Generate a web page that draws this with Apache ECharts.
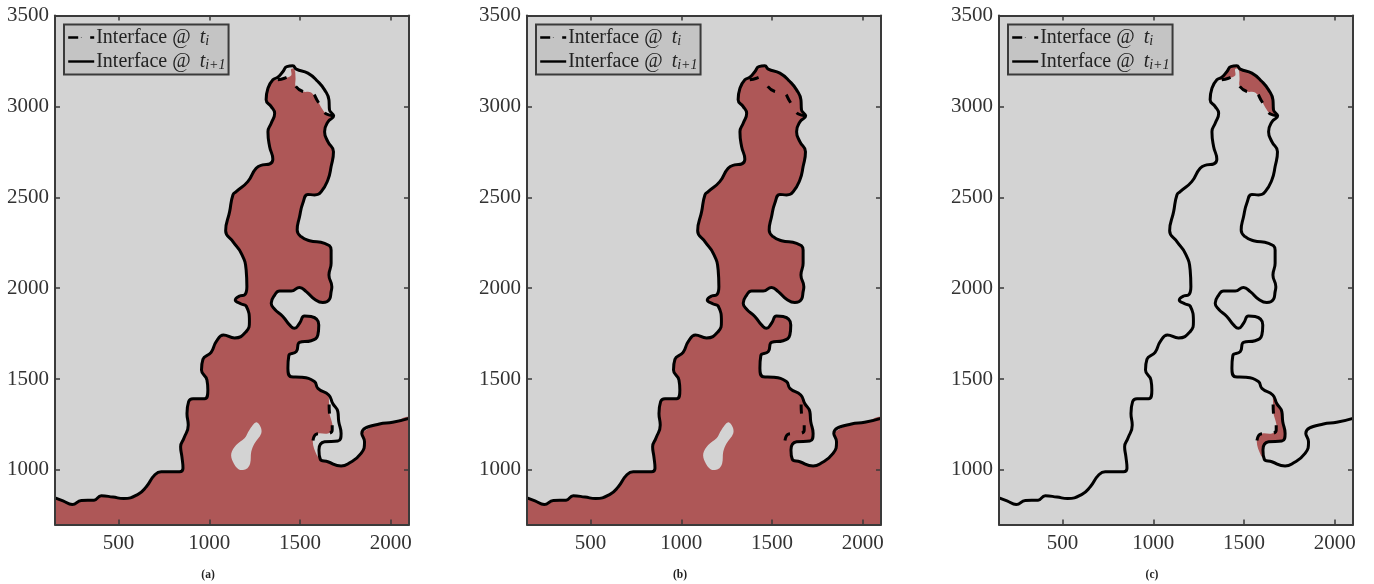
<!DOCTYPE html>
<html><head><meta charset="utf-8">
<style>html,body{margin:0;padding:0;background:#fff}#c{width:1374px;height:584px}</style>
<script src="https://cdn.jsdelivr.net/npm/echarts@6/dist/echarts.min.js"></script>
</head><body><div id="c"></div>
<script>
const xTicks=[500,1000,1500,2000];
const yTicks=[1000,1500,2000,2500,3000,3500];
const captions=['(a)','(b)','(c)'];
const nameOld='Interface @ t_i', nameNew='Interface @ t_i+1';
const commonA=[[150,847],[194,830],[245,810],[295,832],[365,834],[405,858],[469,851],[528,843],[607,866],[653,908],[699,972],[735,990],[836,990],[855,1009],[849,1073],[842,1128],[860,1174],[884,1247],[877,1311],[886,1376],[910,1392],[974,1392],[992,1440],[987,1495],[957,1550],[965,1609],[1010,1647],[1038,1706],[1078,1743],[1139,1726],[1203,1761],[1221,1816],[1203,1902],[1176,1913],[1143,1935],[1167,1957],[1194,1963],[1207,2008],[1203,2100],[1176,2192],[1130,2256],[1090,2316],[1112,2421],[1130,2513],[1148,2531],[1212,2586],[1258,2660],[1294,2678],[1332,2683],[1350,2709],[1332,2779],[1323,2861],[1341,2907],[1360,2962],[1341,2999],[1313,3036],[1323,3100],[1350,3146]];
const solidTop=[[1350,3146],[1378,3161],[1406,3192],[1427,3219],[1460,3223],[1479,3205],[1543,3183],[1598,3137],[1635,3091],[1659,3036],[1662,2981],[1685,2948]];
const dashedTop=[[1350,3146],[1377,3146],[1414,3155],[1451,3170],[1451,3206],[1469,3205],[1475,3155],[1476,3110],[1515,3082],[1561,3076],[1598,3027],[1625,2981],[1645,2958],[1685,2948]];
const commonB=[[1685,2948],[1654,2916],[1635,2861],[1653,2806],[1684,2751],[1671,2669],[1653,2595],[1616,2531],[1580,2513],[1543,2516],[1515,2467],[1497,2393],[1484,2320],[1506,2283],[1552,2261],[1635,2247],[1671,2210],[1671,2137],[1659,2072],[1675,2008],[1671,1981],[1662,1939],[1625,1921],[1580,1939],[1534,1981],[1497,2004],[1451,1984],[1387,1984],[1360,1962],[1341,1917],[1360,1884],[1405,1844],[1442,1798],[1469,1779],[1497,1807],[1524,1847],[1561,1844],[1603,1798],[1598,1743],[1561,1711],[1497,1702],[1479,1651],[1438,1629],[1433,1559],[1451,1513],[1506,1510],[1579,1486],[1598,1449],[1658,1412]];
const solidBottom=[[1658,1412],[1680,1366],[1708,1321],[1713,1266],[1726,1201],[1708,1159],[1635,1155],[1604,1110],[1611,1060]];
const dashedBottom=[[1658,1412],[1660,1360],[1662,1311],[1677,1256],[1677,1220],[1653,1201],[1592,1198],[1570,1155],[1592,1082],[1611,1060]];
const commonC=[[1611,1060],[1653,1045],[1726,1022],[1763,1033],[1836,1091],[1855,1155],[1840,1201],[1937,1253],[2010,1262],[2100,1284]];
const domainCorners=[[2100,700],[150,700]];
const island=[[1258,1262],[1282,1238],[1286,1201],[1249,1146],[1231,1100],[1225,1036],[1203,1005],[1163,1003],[1130,1045],[1121,1090],[1148,1137],[1194,1174],[1221,1220]];

const RED='#ae5757', GREY='#d3d3d3', DARK='#3a3a3a';
const FONT='"Liberation Serif"';
const interfaceNew=[...commonA,...solidTop,...commonB,...solidBottom,...commonC];
const interfaceOld=[...commonA,...dashedTop,...commonB,...dashedBottom,...commonC];
const patchTop=[...solidTop,...dashedTop.slice().reverse()];
const patchBottom=[...solidBottom,...dashedBottom.slice().reverse()];

function polygonSeries(pts,fill,g,z){
  return {type:'custom',silent:true,xAxisIndex:g*2,yAxisIndex:g*2,z,clip:true,data:pts,
    encode:{x:0,y:1},
    renderItem(params,api){
      if(params.context.done) return;
      params.context.done=true;
      return {type:'polygon',shape:{points:pts.map(p=>api.coord(p)),smooth:0.35},style:{fill}};
    }};
}
function lineSeries(name,pts,g,dash){
  return {type:'line',name,data:pts,xAxisIndex:g*2,yAxisIndex:g*2,showSymbol:false,symbol:'none',smooth:0.5,z:dash?3:4,silent:true,
    itemStyle:{color:'#000'},
    lineStyle:{color:'#000',width:3,cap:'butt',join:'round',type:dash?[9,12]:'solid'},animation:false};
}
const lefts=[55,527,999], W=354, TOP=15.5, H=509;
const grid=[],xAxis=[],yAxis=[],series=[],legend=[],title=[];
lefts.forEach((l,g)=>{
  grid.push({left:l,top:TOP,width:W,height:H,show:true,backgroundColor:GREY,borderWidth:0,containLabel:false});
  const xBase={type:'value',gridIndex:g,min:150,max:2100,splitLine:{show:false},z:6,
    axisLine:{show:true,onZero:false,lineStyle:{color:DARK,width:2}},
    axisTick:{show:true,inside:true,length:5,customValues:xTicks,lineStyle:{color:DARK,width:1.5}}};
  xAxis.push({...xBase,position:'bottom',axisLabel:{show:true,customValues:xTicks,margin:8,color:'#333',fontFamily:FONT,fontSize:21,hideOverlap:false,formatter:v=>String(v)}});
  xAxis.push({...xBase,position:'top',axisLabel:{show:false}});
  const yBase={type:'value',gridIndex:g,min:700,max:3500,splitLine:{show:false},z:6,
    axisLine:{show:true,onZero:false,lineStyle:{color:DARK,width:2}},
    axisTick:{show:true,inside:true,length:5,customValues:yTicks,lineStyle:{color:DARK,width:1.5}}};
  yAxis.push({...yBase,position:'left',axisLabel:{show:true,customValues:yTicks,margin:6,padding:[2,0,0,0],color:'#333',fontFamily:FONT,fontSize:21,hideOverlap:false,formatter:v=>String(v)}});
  yAxis.push({...yBase,position:'right',axisLabel:{show:false}});
  if(g===0){
    series.push(polygonSeries([...interfaceOld,...domainCorners],RED,g,1));
    series.push(polygonSeries(island,GREY,g,2));
  }else if(g===1){
    series.push(polygonSeries([...interfaceNew,...domainCorners],RED,g,1));
    series.push(polygonSeries(island,GREY,g,2));
  }else{
    series.push(polygonSeries(patchTop,RED,g,1));
    series.push(polygonSeries(patchBottom,RED,g,1));
  }
  series.push(lineSeries(nameOld,dashedTop.slice(1,4),g,true));
  series.push(lineSeries(nameOld,dashedTop.slice(7),g,true));
  series.push(lineSeries(nameOld,dashedBottom.slice(1,8),g,true));
  series.push(lineSeries(nameNew,interfaceNew,g,false));
  legend.push({left:l+9,top:TOP+9,orient:'vertical',
    data:[{name:nameOld,lineStyle:{type:[10,12],width:2.4}},{name:nameNew,lineStyle:{type:'solid',width:2.4}}],
    selectedMode:false,
    backgroundColor:'#c4c4c4',borderColor:DARK,borderWidth:2,borderRadius:0,padding:[2,3,2,3],
    itemWidth:26,itemHeight:1,itemGap:2,
    itemStyle:{color:'#000'},
    formatter:n=>n===nameOld?'{r|Interface @ }{i|t}{s|i}':'{r|Interface @ }{i|t}{s|i+1}',
    textStyle:{padding:[0,0,0,-3],rich:{
      r:{fontFamily:FONT,fontSize:20,color:'#222',lineHeight:24},
      i:{fontFamily:FONT,fontSize:20,fontStyle:'italic',color:'#222',lineHeight:24,padding:[0,0,0,4]},
      s:{fontFamily:FONT,fontSize:14,fontStyle:'italic',color:'#222',lineHeight:24,padding:[8,0,0,0]}
    }}});
  title.push({text:captions[g],left:l+148,top:564,textAlign:'center',textStyle:{fontFamily:FONT,fontSize:11.5,fontWeight:'bold',color:'#222'}});
});
const chart=echarts.init(document.getElementById('c'),null,{renderer:'canvas'});
chart.setOption({animation:false,backgroundColor:'#fff',grid,xAxis,yAxis,series,legend,title,tooltip:{show:false}});
</script></body></html>
